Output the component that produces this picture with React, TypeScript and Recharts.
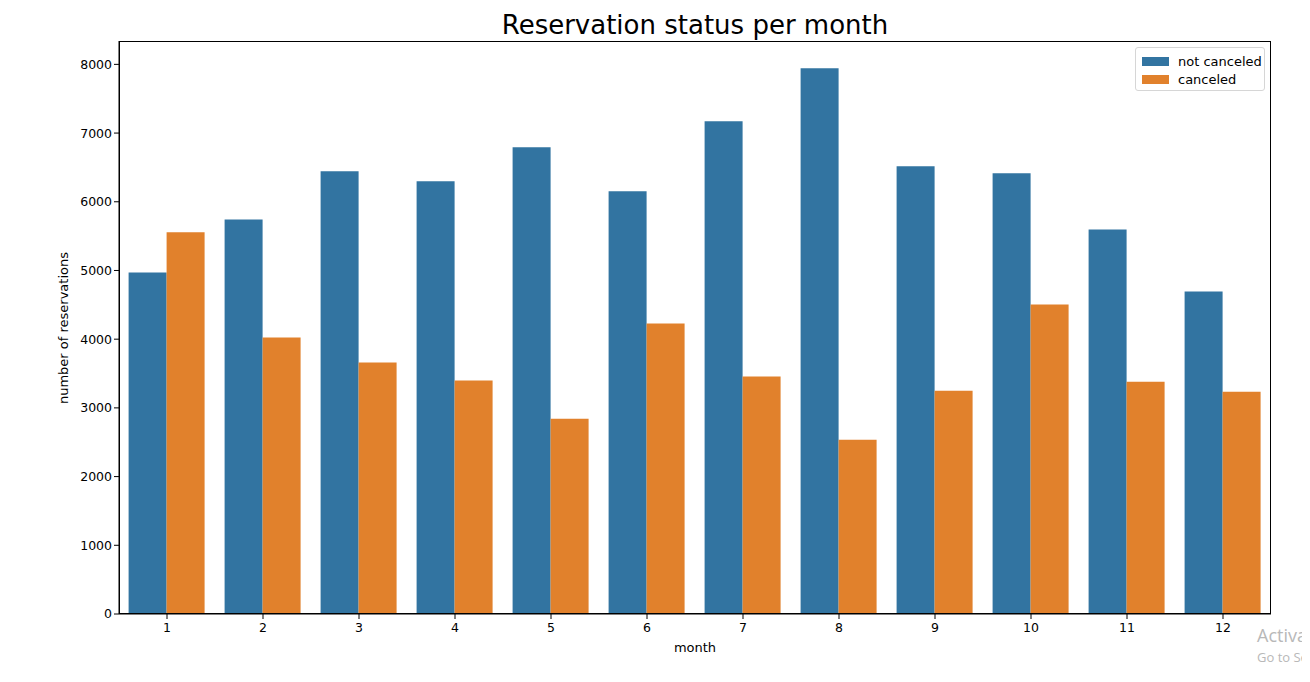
import React from "react";
import { BarChart, Bar, XAxis, YAxis } from "recharts";

const months = ["1", "2", "3", "4", "5", "6", "7", "8", "9", "10", "11", "12"];
const notCanceled = [4971, 5743, 6443, 6297, 6793, 6152, 7172, 7945, 6516, 6414, 5598, 4694];
const canceled = [5558, 4023, 3659, 3397, 2843, 4227, 3455, 2536, 3251, 4504, 3382, 3236];
const yTicks = [0, 1000, 2000, 3000, 4000, 5000, 6000, 7000, 8000];

const data = months.map((m, i) => ({ month: m, notCanceled: notCanceled[i], canceled: canceled[i] }));

const BLUE = "#3274a1";
const ORANGE = "#e1812c";
const FONT = "'DejaVu Sans', sans-serif";

export default function App() {
  const W = 1302;
  const H = 666;
  return (
    <div style={{ position: "relative", width: W, height: H, fontFamily: FONT, overflow: "hidden" }}>
      <div style={{ position: "absolute", top: 2, left: 0, width: 1374, textAlign: "center", fontSize: 26, color: "#000" }}>
        Reservation status per month
      </div>
      <BarChart
        width={W}
        height={H}
        data={data}
        margin={{ top: 33, right: 39, bottom: 30, left: 51 }}
        barCategoryGap="10%"
        barGap={0}
      >
        <XAxis
          dataKey="month"
          height={30}
          tick={{ fill: "#000", fontSize: 12.5, fontFamily: FONT }}
          tickLine={{ stroke: "#000" }}
          tickSize={5}
          tickMargin={4}
          axisLine={{ stroke: "#000" }}
          label={{ value: "month", position: "insideBottom", offset: -8, fill: "#000", fontSize: 13, fontFamily: FONT }}
        />
        <YAxis
          domain={[0, 8340]}
          ticks={yTicks}
          width={60}
          interval={0}
          tick={{ fill: "#000", fontSize: 12.5, fontFamily: FONT }}
          tickLine={{ stroke: "#000" }}
          tickSize={5}
          axisLine={{ stroke: "#000" }}
          allowDataOverflow
        />
        <Bar dataKey="notCanceled" name="not canceled" fill={BLUE} isAnimationActive={false} />
        <Bar dataKey="canceled" name="canceled" fill={ORANGE} isAnimationActive={false} />
      </BarChart>
      <div
        style={{
          position: "absolute",
          left: 111,
          top: 33,
          width: 1152,
          height: 573,
          border: "1px solid #000",
          boxSizing: "border-box",
          pointerEvents: "none",
        }}
      />
      <div
        style={{
          position: "absolute",
          left: 55,
          top: 320,
          transform: "translate(-50%, -50%) rotate(-90deg)",
          whiteSpace: "nowrap",
          fontSize: 13,
          color: "#000",
        }}
      >
        number of reservations
      </div>
      <div
        style={{
          position: "absolute",
          left: 1127,
          top: 39,
          width: 130,
          height: 44,
          border: "1px solid #d6d6d6",
          borderRadius: 3,
          background: "rgba(255,255,255,0.8)",
          fontSize: 13,
          color: "#000",
          boxSizing: "border-box",
          padding: "4px 0 0 6px",
        }}
      >
        <div style={{ display: "flex", alignItems: "center", height: 18 }}>
          <span style={{ display: "inline-block", width: 27, height: 9, background: BLUE, marginRight: 9 }} />
          not canceled
        </div>
        <div style={{ display: "flex", alignItems: "center", height: 18 }}>
          <span style={{ display: "inline-block", width: 27, height: 9, background: ORANGE, marginRight: 9 }} />
          canceled
        </div>
      </div>
      <div style={{ position: "absolute", left: 1249, top: 615, fontSize: 18, color: "#b8b8b8", fontFamily: "'Open Sans', sans-serif", whiteSpace: "nowrap" }}>
        Activate Windows
      </div>
      <div style={{ position: "absolute", left: 1249, top: 640, fontSize: 13, color: "#b8b8b8", fontFamily: "'Open Sans', sans-serif", whiteSpace: "nowrap" }}>
        Go to Settings to activate Windows.
      </div>
    </div>
  );
}
